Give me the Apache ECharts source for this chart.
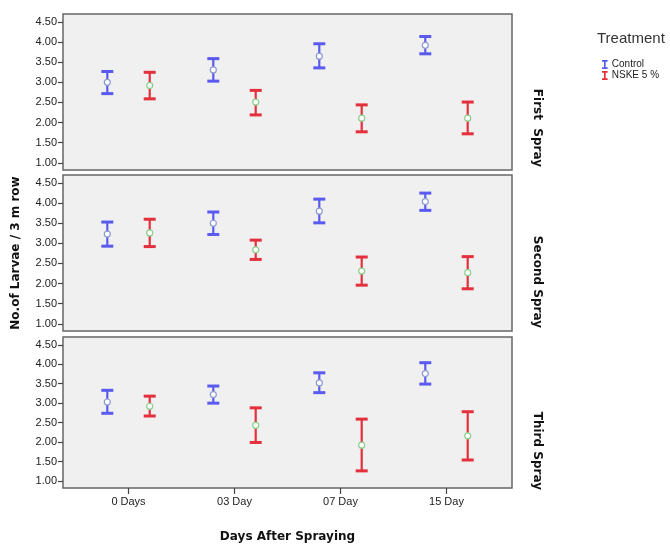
<!DOCTYPE html>
<html>
<head>
<meta charset="utf-8">
<script src="https://cdn.jsdelivr.net/npm/echarts@6/dist/echarts.min.js"></script>
<style>html,body{margin:0;padding:0;background:#fff}#c{width:670px;height:544px}</style>
</head>
<body>
<div id="c"></div>
<script>
// ---- data ----
const categories = ['0 Days', '03 Day', '07 Day', '15 Day'];
const panels = ['First  Spray', 'Second Spray', 'Third Spray'];
const treatments = ['Control', 'NSKE 5 %'];
const yTicks = [1.0, 1.5, 2.0, 2.5, 3.0, 3.5, 4.0, 4.5];

// First Spray
const firstControlMean  = [3.00, 3.31, 3.65, 3.92];
const firstControlLow   = [2.72, 3.03, 3.36, 3.71];
const firstControlHigh  = [3.27, 3.59, 3.96, 4.14];
const firstNskeMean     = [2.92, 2.51, 2.11, 2.11];
const firstNskeLow      = [2.59, 2.19, 1.77, 1.72];
const firstNskeHigh     = [3.25, 2.80, 2.44, 2.51];
// Second Spray
const secondControlMean = [3.23, 3.50, 3.80, 4.04];
const secondControlLow  = [2.93, 3.22, 3.51, 3.82];
const secondControlHigh = [3.53, 3.78, 4.10, 4.25];
const secondNskeMean    = [3.26, 2.84, 2.31, 2.27];
const secondNskeLow     = [2.92, 2.60, 1.96, 1.87];
const secondNskeHigh    = [3.60, 3.08, 2.66, 2.67];
// Third Spray
const thirdControlMean  = [3.03, 3.22, 3.52, 3.76];
const thirdControlLow   = [2.74, 3.00, 3.27, 3.49];
const thirdControlHigh  = [3.33, 3.44, 3.78, 4.04];
const thirdNskeMean     = [2.92, 2.43, 1.92, 2.16];
const thirdNskeLow      = [2.67, 1.99, 1.26, 1.54];
const thirdNskeHigh     = [3.18, 2.88, 2.59, 2.78];

const panelData = [
  [[firstControlMean, firstControlLow, firstControlHigh], [firstNskeMean, firstNskeLow, firstNskeHigh]],
  [[secondControlMean, secondControlLow, secondControlHigh], [secondNskeMean, secondNskeLow, secondNskeHigh]],
  [[thirdControlMean, thirdControlLow, thirdControlHigh], [thirdNskeMean, thirdNskeLow, thirdNskeHigh]]
];

// ---- style ----
const colors = ['#5a5af0', '#e3303c'];
const markerStroke = ['#8f9ad0', '#8ccf8c'];
const dodge = [-0.2, 0.2];
const gridTops = [14, 175, 337];
const gridH = 156;
const gridLeft = 63, gridRight = 158;
const labelFont = 'Liberation Sans, Arial, sans-serif';
const boldFont = 'DejaVu Sans, Verdana, sans-serif';

const chart = echarts.init(document.getElementById('c'), null, {renderer: 'canvas'});

const grids = [], xAxes = [], yAxes = [], series = [], graphics = [];
panels.forEach((p, k) => {
  grids.push({
    left: gridLeft, right: gridRight, top: gridTops[k], height: gridH,
    show: true, backgroundColor: '#f0f0f0', borderColor: '#666', borderWidth: 1.5
  });
  const isBottom = k === panels.length - 1;
  xAxes.push({
    type: 'value', gridIndex: k, min: -0.618, max: 3.618, position: 'bottom',
    axisLine: {show: false, onZero: false},
    splitLine: {show: false},
    axisTick: {show: isBottom, customValues: [0, 1, 2, 3], length: 6, lineStyle: {color: '#444', width: 1.2}},
    axisLabel: {
      show: isBottom, customValues: [0, 1, 2, 3], margin: 8,
      fontFamily: labelFont, fontSize: 11, color: '#222',
      formatter: v => categories[Math.round(v)] || ''
    },
    name: isBottom ? 'Days After Spraying' : '',
    nameLocation: 'middle', nameGap: 43,
    nameTextStyle: {fontFamily: boldFont, fontWeight: 'bold', fontSize: 12, color: '#111'}
  });
  yAxes.push({
    type: 'value', gridIndex: k, min: 0.82, max: 4.70, position: 'left',
    axisLine: {show: false, onZero: false},
    splitLine: {show: false},
    axisTick: {show: true, customValues: yTicks, length: 5, lineStyle: {color: '#444', width: 1.2}},
    axisLabel: {
      customValues: yTicks, margin: 6,
      fontFamily: labelFont, fontSize: 11, color: '#222',
      formatter: v => v.toFixed(2)
    },
    name: k === 1 ? 'No.of Larvae / 3 m row' : '',
    nameLocation: 'middle', nameGap: 41, nameRotate: 90,
    nameTextStyle: {fontFamily: boldFont, fontWeight: 'bold', fontSize: 12, color: '#111'}
  });
  treatments.forEach((t, j) => {
    const [mean, low, high] = panelData[k][j];
    const data = categories.map((c, i) => [i + dodge[j], mean[i], low[i], high[i]]);
    series.push({
      type: 'custom', name: t, xAxisIndex: k, yAxisIndex: k,
      itemStyle: {color: colors[j]},
      encode: {x: 0, y: [1, 2, 3]},
      data: data,
      renderItem: (params, api) => {
        const x = api.value(0);
        const pm = api.coord([x, api.value(1)]);
        const pl = api.coord([x, api.value(2)]);
        const ph = api.coord([x, api.value(3)]);
        const hw = 6;
        const col = colors[j];
        return {
          type: 'group',
          children: [
            {type: 'line', shape: {x1: pm[0], y1: pl[1], x2: pm[0], y2: ph[1]}, style: {stroke: col, lineWidth: 2.2}},
            {type: 'line', shape: {x1: pm[0] - hw, y1: ph[1], x2: pm[0] + hw, y2: ph[1]}, style: {stroke: col, lineWidth: 3}},
            {type: 'line', shape: {x1: pm[0] - hw, y1: pl[1], x2: pm[0] + hw, y2: pl[1]}, style: {stroke: col, lineWidth: 3}},
            {type: 'circle', shape: {cx: pm[0], cy: pm[1], r: 3}, style: {fill: '#fff', stroke: markerStroke[j], lineWidth: 1.2}}
          ]
        };
      }
    });
  });
  graphics.push({
    type: 'text', x: 537, y: gridTops[k] + gridH - 3, rotation: -Math.PI / 2,
    style: {
      text: p, fontFamily: boldFont, fontWeight: 'bold', fontSize: 12, fill: '#111',
      align: 'right', verticalAlign: 'middle'
    }
  });
});

const option = {
  animation: false,
  backgroundColor: '#fff',
  title: {
    text: 'Treatment', left: 597, top: 31, padding: 0,
    textStyle: {fontFamily: labelFont, fontWeight: 'normal', fontSize: 15, color: '#333'}
  },
  legend: {
    orient: 'vertical', left: 602, top: 59, padding: 0, itemGap: 0,
    itemWidth: 6, itemHeight: 9,
    icon: 'path://M0,0 H10 V3 H6.5 V13 H10 V16 H0 V13 H3.5 V3 H0 Z',
    data: treatments,
    textStyle: {fontFamily: labelFont, fontSize: 10, color: '#222', lineHeight: 11, padding: [0, 0, 0, -1]}
  },
  grid: grids,
  xAxis: xAxes,
  yAxis: yAxes,
  series: series,
  graphic: graphics
};
chart.setOption(option);
</script>
</body>
</html>
